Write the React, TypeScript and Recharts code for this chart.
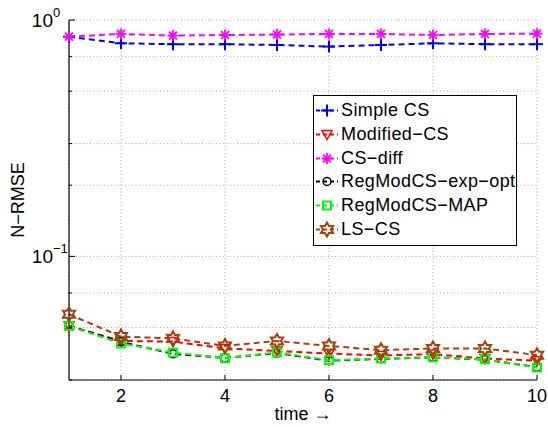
import React from 'react'
import { LineChart, Line, XAxis, YAxis, CartesianGrid, Legend } from 'recharts'

const times = [1, 2, 3, 4, 5, 6, 7, 8, 9, 10]
const simpleCS = [0.85, 0.797, 0.79, 0.79, 0.784, 0.772, 0.784, 0.797, 0.79, 0.79]
const modifiedCS = [0.0508, 0.0439, 0.0436, 0.0408, 0.0398, 0.0388, 0.0381, 0.0386, 0.037, 0.0362]
const csDiff = [0.85, 0.873, 0.859, 0.864, 0.868, 0.873, 0.873, 0.864, 0.873, 0.875]
const regExpOpt = [0.0508, 0.0435, 0.0387, 0.0372, 0.039, 0.0362, 0.0369, 0.0374, 0.0366, 0.034]
const regMAP = [0.0508, 0.0428, 0.0392, 0.0371, 0.0392, 0.0364, 0.037, 0.0374, 0.0367, 0.0339]
const lsCS = [0.0569, 0.0458, 0.045, 0.0418, 0.0439, 0.0418, 0.0401, 0.0408, 0.0408, 0.0382]

const xTicks = [2, 4, 6, 8, 10]
const yTicks = [0.03, 0.04, 0.05, 0.06, 0.07, 0.08, 0.09, 0.1, 0.2, 0.3, 0.4, 0.5, 0.6, 0.7, 0.8, 0.9, 1]
const majorY: Record<string, string> = { '0.1': '\u22121', '1': '0' }

const data = times.map((t, i) => ({
  t,
  simpleCS: simpleCS[i],
  modifiedCS: modifiedCS[i],
  csDiff: csDiff[i],
  regExpOpt: regExpOpt[i],
  regMAP: regMAP[i],
  lsCS: lsCS[i],
}))

const FONT = '"Liberation Sans", Arial, Helvetica, sans-serif'

type Kind = 'plus' | 'tri' | 'star' | 'circle' | 'square' | 'hex'

const series: { key: string; name: string; color: string; kind: Kind }[] = [
  { key: 'simpleCS', name: 'Simple CS', color: '#0000ff', kind: 'plus' },
  { key: 'modifiedCS', name: 'Modified\u2212CS', color: '#ff0000', kind: 'tri' },
  { key: 'csDiff', name: 'CS\u2212diff', color: '#ff00ff', kind: 'star' },
  { key: 'regExpOpt', name: 'RegModCS\u2212exp\u2212opt', color: '#000000', kind: 'circle' },
  { key: 'regMAP', name: 'RegModCS\u2212MAP', color: '#00ff00', kind: 'square' },
  { key: 'lsCS', name: 'LS\u2212CS', color: '#a5400f', kind: 'hex' },
]

function Marker({ kind, cx, cy, color }: { kind: Kind; cx: number; cy: number; color: string }) {
  if (kind === 'plus') {
    return (
      <g stroke={color} strokeWidth={2}>
        <line x1={cx - 6} y1={cy} x2={cx + 6} y2={cy} />
        <line x1={cx} y1={cy - 6} x2={cx} y2={cy + 6} />
      </g>
    )
  }
  if (kind === 'tri') {
    return <polygon points={`${cx - 5},${cy - 4} ${cx + 5},${cy - 4} ${cx},${cy + 5}`} fill="none" stroke={color} strokeWidth={1.5} />
  }
  if (kind === 'star') {
    const r = 5.5
    return (
      <g stroke={color} strokeWidth={1.8}>
        <line x1={cx - r} y1={cy} x2={cx + r} y2={cy} />
        <line x1={cx} y1={cy - r} x2={cx} y2={cy + r} />
        <line x1={cx - r * 0.72} y1={cy - r * 0.72} x2={cx + r * 0.72} y2={cy + r * 0.72} />
        <line x1={cx - r * 0.72} y1={cy + r * 0.72} x2={cx + r * 0.72} y2={cy - r * 0.72} />
      </g>
    )
  }
  if (kind === 'circle') {
    return <circle cx={cx} cy={cy} r={4} fill="none" stroke={color} strokeWidth={1.5} />
  }
  if (kind === 'square') {
    return <rect x={cx - 4} y={cy - 4} width={8} height={8} fill="none" stroke={color} strokeWidth={2} />
  }
  const pts: string[] = []
  for (let i = 0; i < 12; i++) {
    const a = (Math.PI / 6) * i - Math.PI / 2
    const r = i % 2 === 0 ? 7 : 4
    pts.push(`${cx + r * Math.cos(a)},${cy + r * Math.sin(a)}`)
  }
  return <polygon points={pts.join(' ')} fill="none" stroke={color} strokeWidth={2} />
}

const dotFor = (kind: Kind, color: string) => (p: any) => (
  <Marker key={`${kind}-${p.index}`} kind={kind} cx={p.cx} cy={p.cy} color={color} />
)

const XTickBottom = ({ x, y, payload }: any) => (
  <g>
    <line x1={x} y1={y} x2={x} y2={y - 5} stroke="#000" />
    <text x={x} y={y + 22} textAnchor="middle" fontSize={18} fontFamily={FONT} fill="#000">
      {payload.value}
    </text>
  </g>
)

const XTickTop = ({ x, y }: any) => <line x1={x} y1={y} x2={x} y2={y + 5} stroke="#000" />

const YTickLeft = ({ x, y, payload }: any) => {
  const exp = majorY[String(payload.value)]
  const len = exp ? 6 : 3
  return (
    <g>
      <line x1={x} y1={y} x2={x + len} y2={y} stroke="#000" />
      {exp && (
        <>
          <text x={x - 16} y={y + 7} textAnchor="end" fontSize={19} fontFamily={FONT} fill="#000">
            10
          </text>
          <text x={x - 16} y={y - 3} textAnchor="start" fontSize={13} fontFamily={FONT} fill="#000">
            {exp}
          </text>
        </>
      )}
    </g>
  )
}

const YTickRight = ({ x, y, payload }: any) => {
  const len = majorY[String(payload.value)] ? 6 : 3
  return <line x1={x} y1={y} x2={x - len} y2={y} stroke="#000" />
}

const LegendBox = () => (
  <div
    style={{
      border: '1.5px solid #000',
      background: '#fff',
      padding: '3px 0 4px 0',
      fontFamily: FONT,
      fontSize: 18,
      letterSpacing: 0.4,
      color: '#000',
      boxSizing: 'border-box',
      width: 204,
    }}
  >
    {series.map((s) => (
      <div key={s.key} style={{ display: 'flex', alignItems: 'center', height: 23.7 }}>
        <svg width={27} height={23} style={{ flex: 'none' }}>
          <line x1={2} y1={11.5} x2={24} y2={11.5} stroke={s.color} strokeWidth={2} strokeDasharray="4 3" />
          <Marker kind={s.kind} cx={13} cy={11.5} color={s.color} />
        </svg>
        <span style={{ whiteSpace: 'nowrap' }}>{s.name}</span>
      </div>
    ))}
  </div>
)

export default function App() {
  return (
    <div style={{ position: 'absolute', left: 0, top: 0, width: 548, height: 427, background: '#fff' }}>
      <LineChart width={548} height={427} data={data} margin={{ top: 20, right: 11, bottom: 0, left: 0 }}>
        <CartesianGrid stroke="#a8a8a8" strokeDasharray="1 2.5" />
        <XAxis
          dataKey="t"
          type="number"
          domain={[1, 10]}
          ticks={xTicks}
          height={47}
          tickSize={0}
          tickMargin={0}
          tickLine={false}
          tick={<XTickBottom />}
          axisLine={{ stroke: '#000', strokeWidth: 1.2 }}
          label={{ value: 'time \u2192', position: 'insideBottom', offset: 7, fontSize: 18, fill: '#000', fontFamily: FONT }}
        />
        <XAxis
          xAxisId="top"
          orientation="top"
          dataKey="t"
          type="number"
          domain={[1, 10]}
          ticks={xTicks}
          height={0}
          tickSize={0}
          tickMargin={0}
          tickLine={false}
          tick={<XTickTop />}
          axisLine={{ stroke: '#000', strokeWidth: 1.2 }}
        />
        <YAxis
          type="number"
          scale="log"
          domain={[0.03, 1]}
          allowDataOverflow
          ticks={yTicks}
          width={69}
          tickSize={0}
          tickMargin={0}
          tickLine={false}
          tick={<YTickLeft />}
          axisLine={{ stroke: '#000', strokeWidth: 1.2 }}
          label={{ value: 'N\u2212RMSE', angle: -90, position: 'insideLeft', offset: 18, fontSize: 18, fill: '#000', fontFamily: FONT, style: { textAnchor: 'middle' } }}
        />
        <YAxis
          yAxisId="r"
          orientation="right"
          type="number"
          scale="log"
          domain={[0.03, 1]}
          allowDataOverflow
          ticks={yTicks}
          width={0}
          tickSize={0}
          tickMargin={0}
          tickLine={false}
          tick={<YTickRight />}
          axisLine={{ stroke: '#000', strokeWidth: 1.2 }}
        />
        <Legend
          layout="vertical"
          align="center"
          verticalAlign="middle"
          content={<LegendBox />}
          wrapperStyle={{ left: 313, top: 95, width: 204 }}
        />
        {series.map((s) => (
          <Line
            key={s.key}
            dataKey={s.key}
            name={s.name}
            stroke={s.color}
            strokeWidth={2}
            strokeDasharray="6 4"
            dot={dotFor(s.kind, s.color)}
            activeDot={false}
            isAnimationActive={false}
          />
        ))}
      </LineChart>
    </div>
  )
}
